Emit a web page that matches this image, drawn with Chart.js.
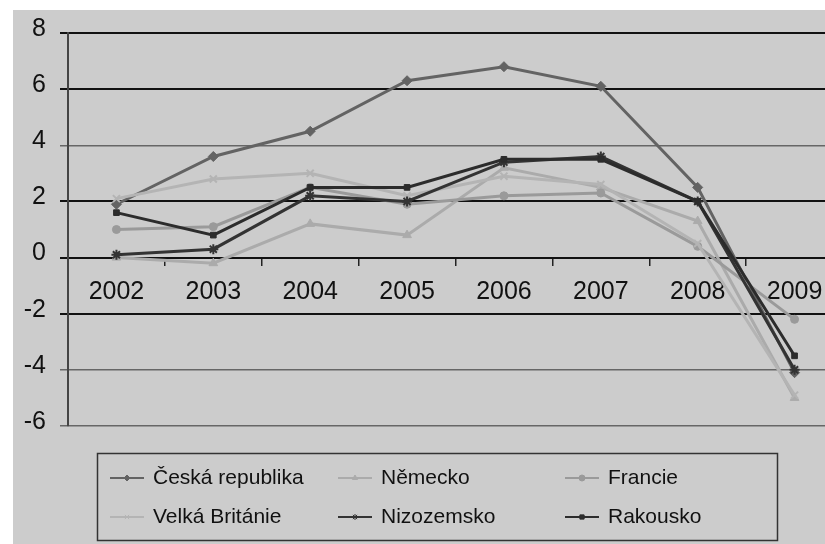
<!DOCTYPE html>
<html>
<head>
<meta charset="utf-8">
<script src="https://cdn.jsdelivr.net/npm/chart.js"></script>
<style>
  body { margin: 0; background: #fff; overflow: hidden; }
  #wrap { width: 825px; height: 544px; overflow: hidden; }
</style>
</head>
<body>
<div id="wrap"><canvas id="Chart" width="850" height="544"></canvas></div>
<script>
const years = ['2002', '2003', '2004', '2005', '2006', '2007', '2008', '2009'];
const cesko = [1.9, 3.6, 4.5, 6.3, 6.8, 6.1, 2.5, -4.1];
const nemecko = [0.0, -0.2, 1.2, 0.8, 3.2, 2.5, 1.3, -5.0];
const francie = [1.0, 1.1, 2.5, 1.9, 2.2, 2.3, 0.4, -2.2];
const britanie = [2.1, 2.8, 3.0, 2.2, 2.9, 2.6, 0.5, -4.9];
const nizozemsko = [0.1, 0.3, 2.2, 2.0, 3.4, 3.6, 2.0, -4.0];
const rakousko = [1.6, 0.8, 2.5, 2.5, 3.5, 3.5, 2.0, -3.5];
const yMin = -6, yMax = 8, yStep = 2;
const darkLines = [8, 6, 2, 0, -2];

const FONT = 'Liberation Sans, Arial, sans-serif';

function serie(label, data, color, style, radius, i) {
    return {
        label: label,
        data: data,
        borderColor: color,
        backgroundColor: color,
        borderWidth: 3,
        pointStyle: style,
        pointRadius: radius,
        pointBorderWidth: style === 'star' || style === 'crossRot' ? 2 : 1,
        tension: 0,
        order: 5 - i
    };
}

const datasets = [
    serie('Česká republika', cesko, '#636363', 'rectRot', 5, 0),
    serie('Německo', nemecko, '#ababab', 'triangle', 5, 1),
    serie('Francie', francie, '#9a9a9a', 'circle', 4, 2),
    serie('Velká Británie', britanie, '#b4b4b4', 'crossRot', 5, 3),
    serie('Nizozemsko', nizozemsko, '#333333', 'star', 5, 4),
    serie('Rakousko', rakousko, '#2c2c2c', 'rect', 4, 5)
];

// grey panel behind the whole chart
const background = {
    id: 'background',
    beforeDraw(chart) {
        const c = chart.ctx;
        c.save();
        c.fillStyle = '#ffffff';
        c.fillRect(0, 0, chart.width, chart.height);
        c.fillStyle = '#cccccc';
        c.fillRect(13, 10, chart.width - 13, chart.height - 10);
        c.restore();
    }
};

// boxed legend in three fixed columns
const boxLegend = {
    id: 'boxLegend',
    afterDraw(chart) {
        const c = chart.ctx;
        const cols = [110, 338, 565];
        const rows = [478, 517];
        c.save();
        c.strokeStyle = '#333';
        c.lineWidth = 1.5;
        c.strokeRect(97.5, 453.5, 680, 87);
        c.font = '21px ' + FONT;
        c.textBaseline = 'middle';
        c.textAlign = 'left';
        chart.data.datasets.forEach((ds, i) => {
            const x = cols[i % 3], y = rows[Math.floor(i / 3)];
            c.strokeStyle = ds.borderColor;
            c.fillStyle = ds.borderColor;
            c.lineWidth = 2;
            c.beginPath();
            c.moveTo(x, y);
            c.lineTo(x + 34, y);
            c.stroke();
            if (Chart.helpers && Chart.helpers.drawPoint) {
                c.lineWidth = 1;
                Chart.helpers.drawPoint(c, {pointStyle: ds.pointStyle, radius: 3, rotation: 0, borderWidth: 1}, x + 17, y);
            }
            c.fillStyle = '#111';
            c.fillText(ds.label, x + 43, y);
        });
        c.restore();
    }
};

const ctx = document.getElementById('Chart');

new Chart(ctx, {
    type: 'line',
    data: {
        labels: years,
        datasets: datasets
    },
    options: {
        responsive: false,
        animation: false,
        devicePixelRatio: 1,
        layout: {
            padding: {left: 0, top: 33, right: 6, bottom: 118}
        },
        plugins: {
            legend: {display: false},
            tooltip: {enabled: false}
        },
        scales: {
            x: {
                type: 'category',
                position: {y: 0},
                offset: true,
                grid: {
                    drawOnChartArea: false,
                    offset: true,
                    tickLength: 8,
                    color: '#222',
                    lineWidth: 1.5
                },
                border: {display: false},
                ticks: {
                    color: '#111',
                    font: {family: FONT, size: 25},
                    padding: 12,
                    maxRotation: 0,
                    autoSkip: false
                }
            },
            y: {
                min: yMin,
                max: yMax,
                afterFit(scale) { scale.width = 68; },
                grid: {
                    tickLength: 8,
                    color: c => darkLines.includes(c.tick && c.tick.value) ? '#111' : '#666',
                    lineWidth: c => darkLines.includes(c.tick && c.tick.value) ? 2 : 1.5
                },
                border: {display: true, color: '#444', width: 2},
                ticks: {
                    stepSize: yStep,
                    color: '#111',
                    font: {family: FONT, size: 25},
                    padding: 14,
                    labelOffset: -4
                }
            }
        }
    },
    plugins: [background, boxLegend]
});
</script>
</body>
</html>
